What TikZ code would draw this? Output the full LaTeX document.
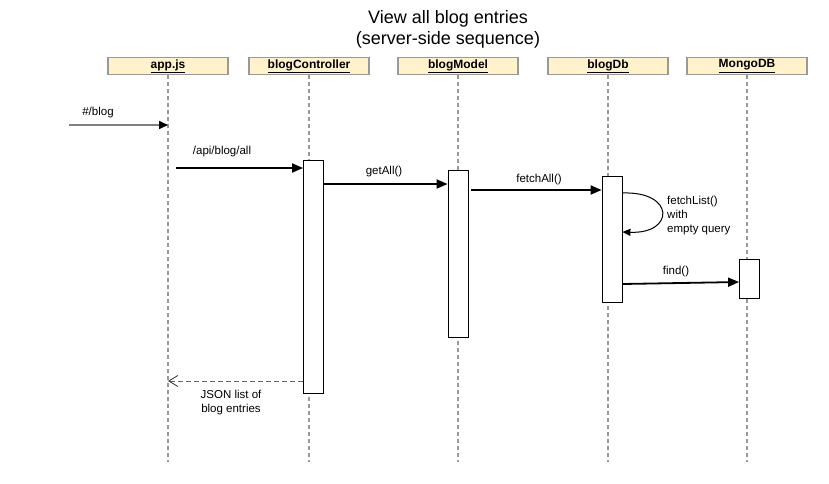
\documentclass[tikz,border=0pt]{standalone}
\usepackage{fontspec}
\setmainfont{Liberation Sans}
\usetikzlibrary{arrows.meta}
\definecolor{headfill}{HTML}{FFF2CC}
\definecolor{linegray}{HTML}{999999}
\begin{document}
\begin{tikzpicture}[x=1pt,y=-1pt,
 head/.style={draw=linegray, fill=headfill, line width=1.6pt, minimum width=120pt, minimum height=17pt, inner sep=0pt, font=\bfseries\fontsize{12}{14}\selectfont},
 life/.style={draw=linegray, line width=1.2pt, dash pattern=on 4pt off 3pt},
 act/.style={draw=black, fill=white, line width=0.8pt, minimum width=20pt, inner sep=0pt},
 msg/.style={line width=1.8pt, -{Triangle[length=11pt,width=9pt]}},
 lbl/.style={font=\fontsize{11.5}{14}\selectfont, inner sep=0pt},
 ret/.style={draw=black!60, line width=1pt, dash pattern=on 5pt off 3pt, -{Straight Barb[length=9pt,width=11pt,line width=0.9pt,color=black!75]}}
]
\useasboundingbox (0,0) rectangle (829,483);
% title
\node[font=\fontsize{18}{21}\selectfont, align=center] (title) at (448,29) {View all blog entries\\(server-side sequence)};
% headers
\node[head] (h1) at (168,66) {\underline{app.js}};
\node[head] (h2) at (309,66) {\underline{blogController}};
\node[head] (h3) at (458,66) {\underline{blogModel}};
\node[head] (h4) at (608,66) {\underline{blogDb}};
\node[head] (h5) at (747,66) {\underline{MongoDB}};
% lifeline ends
\coordinate (e1) at (168,462);
\coordinate (e2) at (309,462);
\coordinate (e3) at (458,462);
\coordinate (e4) at (608,462);
\coordinate (e5) at (747,462);
\draw[life] (h1.south) -- (e1);
\draw[life] (h2.south) -- (e2);
\draw[life] (h3.south) -- (e3);
\draw[life] (h4.south) -- (e4);
\draw[life] (h5.south) -- (e5);
% activations
\node[act, minimum height=233pt] (a2) at (313.5,276.5) {};
\node[act, minimum height=167pt] (a3) at (458,253.5) {};
\node[act, minimum height=126pt] (a4) at (612,239) {};
\node[act, minimum height=39pt] (a5) at (749.5,278.5) {};
% #/blog
\coordinate (s0) at (69,125);
\coordinate (t0) at (168,125);
\draw[draw=black!50, line width=1.6pt, -{Triangle[length=9pt,width=8pt,color=black,fill=black]}] (s0) -- (t0);
\node[lbl] (l0) at (98,113) {\#/blog};
% /api/blog/all
\coordinate (s1) at (176,168);
\draw[msg] (s1) -- (a2.west |- s1);
\node[lbl] (l1) at (222,152) {/api/blog/all};
% getAll()
\coordinate (s2) at (324,184);
\draw[msg] (a2.east |- s2) -- (a3.west |- s2);
\node[lbl] (l2) at (384,172) {getAll()};
% fetchAll()
\coordinate (s3) at (471,190);
\draw[msg] (s3) -- (a4.west |- s3);
\node[lbl] (l3) at (539,180) {fetchAll()};
% self loop
\coordinate (p1) at (622,193);
\coordinate (p2) at (622,232);
\draw[line width=1pt, -{Triangle[length=8pt,width=7pt]}] (a4.east |- p1) .. controls (675,191) and (675,234) .. (a4.east |- p2);
\node[lbl, anchor=north west, align=left] (l4) at (667,196) {fetchList()\\with\\empty query};
% find()
\coordinate (s5) at (622,284);
\coordinate (t5) at (739,282);
\draw[msg] (a4.east |- s5) -- (a5.west |- t5);
\node[lbl] (l5) at (676,272) {find()};
% return
\coordinate (s6) at (303,381);
\draw[ret] (a2.west |- s6) -- (e1 |- s6);
\node[lbl, align=center] (l6) at (231,403) {JSON list of\\blog entries};
\end{tikzpicture}
\end{document}
